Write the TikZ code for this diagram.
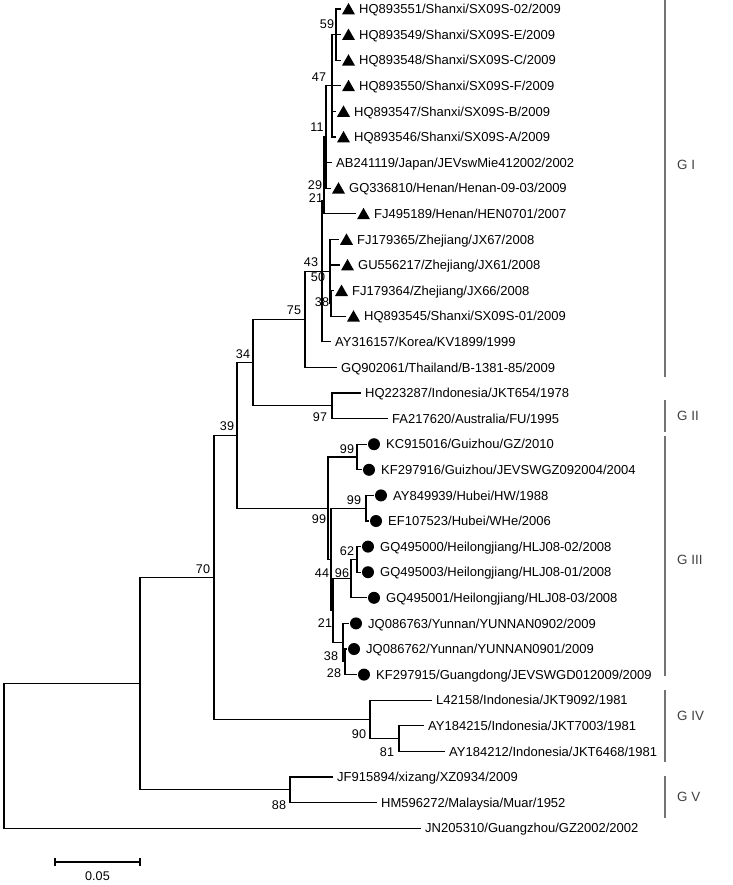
\documentclass[tikz,border=0pt]{standalone}
\usepackage{fontspec}
\setmainfont{Liberation Sans}
\newcommand{\TriLeaf}[4]{%
  \coordinate (#1) at (#2,#3);
  \fill[black] (#2+1,#3+5.4) -- (#2+14,#3+5.4) -- (#2+7.5,#3-6) -- cycle;
  \node[lab] (#1t) at (#2+18,#3) {#4};}
\newcommand{\DotLeaf}[4]{%
  \coordinate (#1) at (#2,#3);
  \fill[black] (#2+7,#3) circle[radius=6];
  \node[lab] (#1t) at (#2+19,#3) {#4};}
\newcommand{\PlainLeaf}[4]{%
  \coordinate (#1) at (#2,#3);
  \node[lab] (#1t) at (#2+4,#3) {#4};}
\begin{document}
\begin{tikzpicture}[x=1pt,y=-1pt,
  br/.style={line width=1.1pt, black},
  lab/.style={anchor=west, inner sep=0pt, font=\fontsize{13}{14}\selectfont, text height=9.3pt, text depth=0pt},
  bs/.style={inner sep=0pt, font=\fontsize{12.6}{14}\selectfont, text height=9pt, text depth=0pt},
  grp/.style={anchor=west, inner sep=0pt, font=\fontsize{13.4}{15}\selectfont, text=black!75, text height=9.6pt, text depth=0pt},
  gbar/.style={line width=1.4pt, black!55}]
\useasboundingbox (0,0) rectangle (732,885);
% leaves
\TriLeaf{l1}{341}{9}{HQ893551/Shanxi/SX09S-02/2009}
\TriLeaf{l2}{341}{34.6}{HQ893549/Shanxi/SX09S-E/2009}
\TriLeaf{l3}{341}{60.2}{HQ893548/Shanxi/SX09S-C/2009}
\TriLeaf{l4}{341}{85.8}{HQ893550/Shanxi/SX09S-F/2009}
\TriLeaf{l5}{336}{111.4}{HQ893547/Shanxi/SX09S-B/2009}
\TriLeaf{l6}{336}{137}{HQ893546/Shanxi/SX09S-A/2009}
\PlainLeaf{l7}{332}{162.6}{AB241119/Japan/JEVswMie412002/2002}
\TriLeaf{l8}{331}{188.2}{GQ336810/Henan/Henan-09-03/2009}
\TriLeaf{l9}{356}{213.8}{FJ495189/Henan/HEN0701/2007}
\TriLeaf{l10}{339}{239.4}{FJ179365/Zhejiang/JX67/2008}
\TriLeaf{l11}{340}{265}{GU556217/Zhejiang/JX61/2008}
\TriLeaf{l12}{334}{290.6}{FJ179364/Zhejiang/JX66/2008}
\TriLeaf{l13}{346}{316.2}{HQ893545/Shanxi/SX09S-01/2009}
\PlainLeaf{l14}{331}{341.8}{AY316157/Korea/KV1899/1999}
\PlainLeaf{l15}{337}{367.4}{GQ902061/Thailand/B-1381-85/2009}
\PlainLeaf{l16}{361}{393}{HQ223287/Indonesia/JKT654/1978}
\PlainLeaf{l17}{388}{418.6}{FA217620/Australia/FU/1995}
\DotLeaf{l18}{367}{444.2}{KC915016/Guizhou/GZ/2010}
\DotLeaf{l19}{362}{469.8}{KF297916/Guizhou/JEVSWGZ092004/2004}
\DotLeaf{l20}{374}{495.4}{AY849939/Hubei/HW/1988}
\DotLeaf{l21}{369}{521}{EF107523/Hubei/WHe/2006}
\DotLeaf{l22}{361}{546.6}{GQ495000/Heilongjiang/HLJ08-02/2008}
\DotLeaf{l23}{361}{572.2}{GQ495003/Heilongjiang/HLJ08-01/2008}
\DotLeaf{l24}{367}{597.8}{GQ495001/Heilongjiang/HLJ08-03/2008}
\DotLeaf{l25}{349}{623.4}{JQ086763/Yunnan/YUNNAN0902/2009}
\DotLeaf{l26}{347}{649}{JQ086762/Yunnan/YUNNAN0901/2009}
\DotLeaf{l27}{357}{674.6}{KF297915/Guangdong/JEVSWGD012009/2009}
\PlainLeaf{l28}{432}{700.2}{L42158/Indonesia/JKT9092/1981}
\PlainLeaf{l29}{424}{725.8}{AY184215/Indonesia/JKT7003/1981}
\PlainLeaf{l30}{445}{751.4}{AY184212/Indonesia/JKT6468/1981}
\PlainLeaf{l31}{333}{777}{JF915894/xizang/XZ0934/2009}
\PlainLeaf{l32}{377}{802.6}{HM596272/Malaysia/Muar/1952}
\PlainLeaf{l33}{421}{828.2}{JN205310/Guangzhou/GZ2002/2002}
% internal nodes
\coordinate (n59) at (336,34.6);
\coordinate (n47) at (332,85.8);
\coordinate (n11) at (326,137);
\coordinate (n21) at (324,201);
\coordinate (n43) at (322,271.4);
\coordinate (n50) at (330,271.4);
\coordinate (n38) at (331,303.4);
\coordinate (n75) at (305,319.4);
\coordinate (n97) at (332,405.8);
\coordinate (n34) at (253,362.6);
\coordinate (n99a) at (357,457);
\coordinate (n99c) at (366,508.2);
\coordinate (n62) at (357,559.4);
\coordinate (n96) at (351,578.6);
\coordinate (n38y) at (345,661.8);
\coordinate (n21y) at (343,642.6);
\coordinate (n44) at (333,610.6);
\coordinate (nw) at (331,559.4);
\coordinate (n99b) at (328,508.2);
\coordinate (n39) at (237,435.4);
\coordinate (n81) at (399,738.6);
\coordinate (n90) at (370,719.4);
\coordinate (n70) at (214,577.4);
\coordinate (n88) at (290,789.8);
\coordinate (n143) at (140,683.6);
\coordinate (root) at (4,756);
% branches
\foreach \p/\c in {root/n143, root/l33, n143/n70, n143/n88, n70/n39, n70/n90,
  n39/n34, n39/n99b, n34/n75, n34/n97, n75/n43, n75/l15, n43/n21, n43/n50, n43/l14,
  n21/n11, n21/l9, n11/n47, n11/l7, n11/l8, n47/n59, n47/l4, n47/l5, n47/l6,
  n59/l1, n59/l2, n59/l3, n50/l10, n50/l11, n50/n38, n38/l12, n38/l13,
  n97/l16, n97/l17, n99b/n99a, n99b/nw, n99a/l18, n99a/l19, nw/n99c, nw/n44,
  n99c/l20, n99c/l21, n44/n96, n44/n21y, n96/n62, n96/l24, n62/l22, n62/l23,
  n21y/l25, n21y/n38y, n38y/l26, n38y/l27, n90/l28, n90/n81, n81/l29, n81/l30,
  n88/l31, n88/l32}
  \draw[br] (\p) |- (\c);
% bootstrap values
\node[bs] (b59) at (327,24) {59};
\node[bs] (b47) at (319,77) {47};
\node[bs] (b11) at (317,127) {11};
\node[bs] (b29) at (315,185.5) {29};
\node[bs] (b21) at (316,198) {21};
\node[bs] (b43) at (311,262) {43};
\node[bs] (b50) at (318,277) {50};
\node[bs] (b38) at (322,302) {38};
\node[bs] (b75) at (294,310) {75};
\node[bs] (b34) at (243,354) {34};
\node[bs] (b97) at (320,417) {97};
\node[bs] (b39) at (227,426) {39};
\node[bs] (b99a) at (347,449) {99};
\node[bs] (b99c) at (354,500) {99};
\node[bs] (b99b) at (319,519) {99};
\node[bs] (b62) at (347,551) {62};
\node[bs] (b44) at (322,573) {44};
\node[bs] (b96) at (342,573) {96};
\node[bs] (b21y) at (325,623) {21};
\node[bs] (b38y) at (331,656) {38};
\node[bs] (b28) at (334,673) {28};
\node[bs] (b70) at (203,569) {70};
\node[bs] (b90) at (359,734) {90};
\node[bs] (b81) at (387,752) {81};
\node[bs] (b88) at (279,805) {88};
% scale bar
\coordinate (sa) at (55,862);
\coordinate (sb) at (140,862);
\draw[br] (sa) -- (sb);
\draw[br] (55,858) -- (55,866);
\draw[br] (140,858) -- (140,866);
\node[bs] (sl) at (97.5,876) {0.05};
% group bars
\coordinate (g1a) at (665,0);   \coordinate (g1b) at (665,377);
\coordinate (g2a) at (665,400); \coordinate (g2b) at (665,432);
\coordinate (g3a) at (665,436); \coordinate (g3b) at (665,676);
\coordinate (g4a) at (665,690); \coordinate (g4b) at (665,762);
\coordinate (g5a) at (665,776); \coordinate (g5b) at (665,818);
\draw[gbar] (g1a) -- (g1b);
\draw[gbar] (g2a) -- (g2b);
\draw[gbar] (g3a) -- (g3b);
\draw[gbar] (g4a) -- (g4b);
\draw[gbar] (g5a) -- (g5b);
\node[grp] (G1) at (677,165) {G I};
\node[grp] (G2) at (677,416) {G II};
\node[grp] (G3) at (677,560) {G III};
\node[grp] (G4) at (677,716) {G IV};
\node[grp] (G5) at (677,797) {G V};
\end{tikzpicture}
\end{document}
